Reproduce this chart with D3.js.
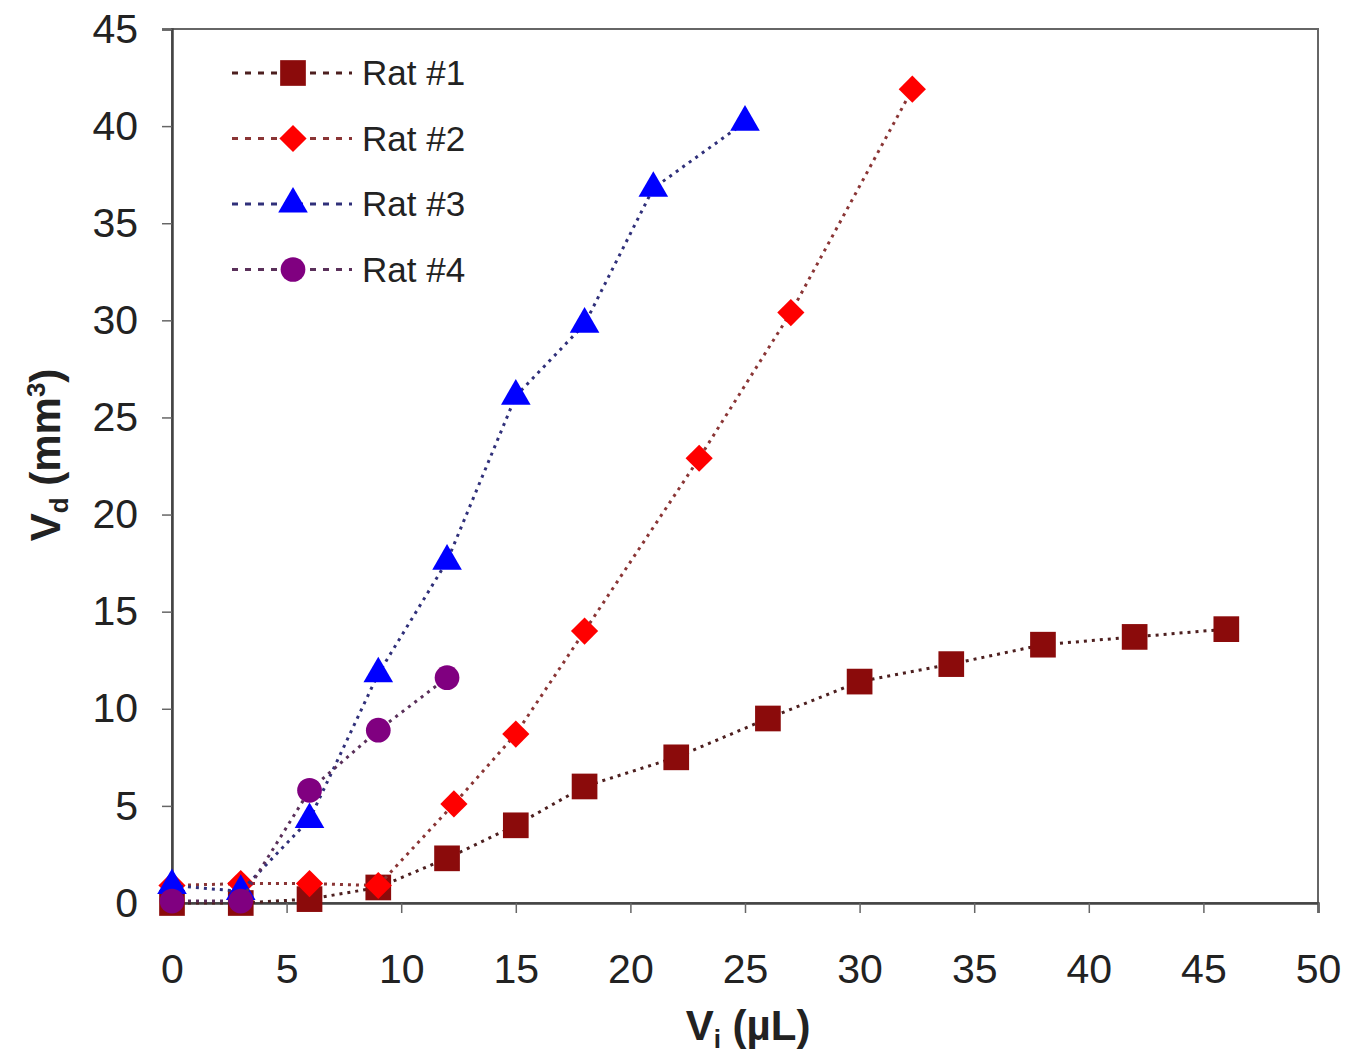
<!DOCTYPE html>
<html lang="en">
<head>
    <meta charset="utf-8">
    <style>
        body { margin: 0; background: #fff; }
        text { font-family: "Liberation Sans", Arial, sans-serif; fill: #222; }
        .tick text { font-size: 41px; }
        .axis-title { font-size: 42px; font-weight: bold; }
        .legend text { font-size: 35px; }
    </style>
</head>
<body>
    <svg width="1361" height="1055"></svg>
    <script src="https://cdn.jsdelivr.net/npm/d3@7"></script>
    <script>

        // values
        var seriesNames = ["Rat #1", "Rat #2", "Rat #3", "Rat #4"];
        var rat1X = [0, 3, 6, 9, 12, 15, 18, 22, 26, 30, 34, 38, 42, 46];
        var rat1Y = [0, 0, 0.2, 0.8, 2.3, 4.0, 6.0, 7.5, 9.5, 11.4, 12.3, 13.3, 13.7, 14.1];
        var rat2X = [0, 3, 6, 9, 12.3, 15, 18, 23, 27, 32.3];
        var rat2Y = [0.9, 1.0, 1.0, 0.9, 5.1, 8.7, 14.0, 22.9, 30.4, 41.9];
        var rat3X = [0, 3, 6, 9, 12, 15, 18, 21, 25];
        var rat3Y = [0.9, 0.6, 4.3, 11.8, 17.6, 26.1, 29.8, 36.8, 40.2];
        var rat4X = [0, 3, 6, 9, 12];
        var rat4Y = [0.1, 0.1, 5.8, 8.9, 11.6];
        var xTicks = [0, 5, 10, 15, 20, 25, 30, 35, 40, 45, 50];
        var yTicks = [0, 5, 10, 15, 20, 25, 30, 35, 40, 45];

        var colors = ["#8b0b0b", "#ff0000", "#0000ff", "#800080"];
        var lineColors = ["#4d1f1f", "#8a3535", "#30307a", "#5a305a"];
        var shapes = ["square", "diamond", "triangle", "circle"];

        var series = [
            d3.zip(rat1X, rat1Y),
            d3.zip(rat2X, rat2Y),
            d3.zip(rat3X, rat3Y),
            d3.zip(rat4X, rat4Y)
        ];

        var svg = d3.select("svg");
        var plotLeft = 172, plotRight = 1318, plotTop = 29, plotBottom = 903;

        var x = d3.scaleLinear().domain([0, 50]).range([plotLeft, plotRight]);
        var y = d3.scaleLinear().domain([0, 45]).range([plotBottom, plotTop]);

        function symbolPath(shape) {
            if (shape == "square") return d3.symbol(d3.symbolSquare, 660)();
            if (shape == "diamond") return d3.symbol(d3.symbolSquare, 370)();
            if (shape == "triangle") return d3.symbol(d3.symbolTriangle, 380)();
            return d3.symbol(d3.symbolCircle, 480)();
        }

        // frame
        svg.append("rect")
            .attr("x", plotLeft).attr("y", plotTop)
            .attr("width", plotRight - plotLeft).attr("height", plotBottom - plotTop)
            .attr("fill", "none")
            .attr("stroke", "#666")
            .attr("stroke-width", 2);

        // axes
        var xAxis = svg.append("g")
            .attr("transform", "translate(0," + plotBottom + ")")
            .call(d3.axisBottom(x).tickValues(xTicks).tickSize(10).tickPadding(41));
        var yAxis = svg.append("g")
            .attr("transform", "translate(" + plotLeft + ",0)")
            .call(d3.axisLeft(y).tickValues(yTicks).tickSize(10).tickPadding(24));
        [xAxis, yAxis].forEach(function (g) {
            g.select(".domain").attr("stroke", "#444").attr("stroke-width", 2.5);
            g.selectAll(".tick line").attr("stroke", "#666").attr("stroke-width", 1.5);
            g.selectAll(".tick text").attr("fill", "#222").style("font-family", "Liberation Sans, Arial, sans-serif");
        });
        xAxis.selectAll(".tick text").attr("dy", "0.71em");

        // axis titles
        var xt = svg.append("text")
            .attr("class", "axis-title")
            .attr("x", 748).attr("y", 1040)
            .attr("text-anchor", "middle");
        xt.append("tspan").text("V");
        xt.append("tspan").attr("font-size", "26px").attr("dy", 8).text("i");
        xt.append("tspan").attr("dy", -8).text(" (\u00b5L)");

        var yt = svg.append("text")
            .attr("class", "axis-title")
            .attr("transform", "translate(60,455) rotate(-90)")
            .attr("text-anchor", "middle");
        yt.append("tspan").text("V");
        yt.append("tspan").attr("font-size", "26px").attr("dy", 8).text("d");
        yt.append("tspan").attr("dy", -8).text(" (mm");
        yt.append("tspan").attr("font-size", "26px").attr("dy", -15).text("3");
        yt.append("tspan").attr("dy", 15).text(")");

        var line = d3.line()
            .x(function (d) { return x(d[0]); })
            .y(function (d) { return y(d[1]); });

        // series
        series.forEach(function (data, i) {
            var g = svg.append("g");
            g.append("path")
                .datum(data)
                .attr("d", line)
                .attr("fill", "none")
                .attr("stroke", lineColors[i])
                .attr("stroke-width", 3)
                .attr("stroke-dasharray", "3,5");
            g.selectAll("path.marker")
                .data(data)
                .enter().append("path")
                .attr("class", "marker")
                .attr("d", symbolPath(shapes[i]))
                .attr("transform", function (d) {
                    return "translate(" + x(d[0]) + "," + y(d[1]) + ")" + (shapes[i] == "diamond" ? " rotate(45)" : "");
                })
                .attr("fill", colors[i]);
        });

        // legend
        var legend = svg.append("g").attr("class", "legend");
        var rows = legend.selectAll("g")
            .data(seriesNames)
            .enter().append("g")
            .attr("transform", function (d, i) { return "translate(232," + (73 + i * 65.5) + ")"; });
        rows.append("line")
            .attr("x1", 0).attr("x2", 120)
            .attr("stroke", function (d, i) { return lineColors[i]; })
            .attr("stroke-width", 3)
            .attr("stroke-dasharray", "6,7");
        rows.append("path")
            .attr("d", function (d, i) { return symbolPath(shapes[i]); })
            .attr("transform", function (d, i) { return "translate(61,0)" + (shapes[i] == "diamond" ? " rotate(45)" : ""); })
            .attr("fill", function (d, i) { return colors[i]; });
        rows.append("text")
            .attr("x", 130).attr("dy", "0.35em")
            .text(function (d) { return d; });

    </script>
</body>
</html>
